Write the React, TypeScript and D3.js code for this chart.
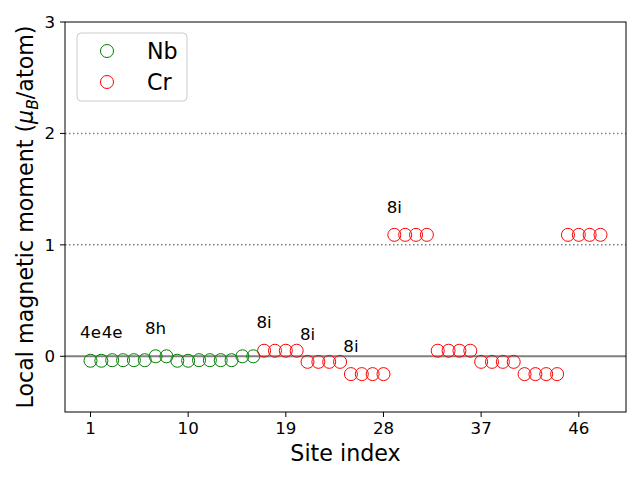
import React from "react";
import * as d3 from "d3";

const nbSites = [1, 2, 3, 4, 5, 6, 7, 8, 9, 10, 11, 12, 13, 14, 15, 16];
const nbMoments = [-0.04, -0.04, -0.035, -0.035, -0.035, -0.035, 0.0, 0.0, -0.04, -0.04, -0.035, -0.035, -0.035, -0.035, 0.0, 0.0];
const crSites = [17, 18, 19, 20, 21, 22, 23, 24, 25, 26, 27, 28, 29, 30, 31, 32, 33, 34, 35, 36, 37, 38, 39, 40, 41, 42, 43, 44, 45, 46, 47, 48];
const crMoments = [0.05, 0.05, 0.05, 0.05, -0.05, -0.05, -0.05, -0.05, -0.16, -0.16, -0.16, -0.16, 1.09, 1.09, 1.09, 1.09,
  0.05, 0.05, 0.05, 0.05, -0.05, -0.05, -0.05, -0.05, -0.16, -0.16, -0.16, -0.16, 1.09, 1.09, 1.09, 1.09];
const labelText = ["4e", "4e", "8h", "8i", "8i", "8i", "8i"];
const labelSite = [1, 3, 7, 17, 21, 25, 29];
const labelMoment = [-0.04, -0.035, 0.0, 0.05, -0.05, -0.16, 1.09];
const xTicks = [1, 10, 19, 28, 37, 46];
const yTicks = [0, 1, 2, 3];
const dottedLevels = [1, 2];

const W = 640, H = 480;
const L = 65, R = 626, T = 22, B = 412;
const font = "'DejaVu Sans', sans-serif";

export default function App() {
  const x = d3.scaleLinear().domain([-1.35, 50.35]).range([L, R]);
  const y = d3.scaleLinear().domain([-0.5, 3]).range([B, T]);
  return (
    <svg width={W} height={H} style={{ position: "absolute", left: 0, top: 0 }} fontFamily={font}>
      <rect width={W} height={H} fill="white" />
      {dottedLevels.map((v) => (
        <line key={v} x1={L} x2={R} y1={y(v)} y2={y(v)} stroke="#808080" strokeWidth={1.5} strokeDasharray="1.5,2.5" />
      ))}
      <line x1={L} x2={R} y1={y(0)} y2={y(0)} stroke="#808080" strokeWidth={2} />
      {nbSites.map((s, i) => (
        <circle key={"nb" + s} cx={x(s)} cy={y(nbMoments[i])} r={6.5} fill="none" stroke="#008000" strokeWidth={1} />
      ))}
      {crSites.map((s, i) => (
        <circle key={"cr" + s} cx={x(s)} cy={y(crMoments[i])} r={6.5} fill="none" stroke="#ff0000" strokeWidth={1} />
      ))}
      {labelText.map((t, i) => (
        <text key={i} x={x(labelSite[i])} y={y(labelMoment[i] + 0.2)} textAnchor="middle" fontSize={16.67} fill="black">{t}</text>
      ))}
      <rect x={L} y={T} width={R - L} height={B - T} fill="none" stroke="black" strokeWidth={1} />
      {xTicks.map((t) => (
        <g key={t}>
          <line x1={x(t)} x2={x(t)} y1={B} y2={B + 5} stroke="black" strokeWidth={1} />
          <text x={x(t)} y={B + 22} textAnchor="middle" fontSize={16.67}>{t}</text>
        </g>
      ))}
      {yTicks.map((t) => (
        <g key={t}>
          <line x1={L - 5} x2={L} y1={y(t)} y2={y(t)} stroke="black" strokeWidth={1} />
          <text x={L - 10} y={y(t) + 6} textAnchor="end" fontSize={16.67}>{t}</text>
        </g>
      ))}
      <text x={(L + R) / 2} y={461} textAnchor="middle" fontSize={22.2}>Site index</text>
      <text transform={`translate(33,${(T + B) / 2}) rotate(-90)`} textAnchor="middle" fontSize={22.2}>
        Local magnetic moment (<tspan fontStyle="italic">μ</tspan>
        <tspan fontStyle="italic" fontSize={15.5} dy={5}>B</tspan>
        <tspan dy={-5}>/atom)</tspan>
      </text>
      <g>
        <rect x={77} y={33} width={110} height={68} rx={4} fill="white" fillOpacity={0.8} stroke="#cccccc" strokeWidth={1} />
        <circle cx={107} cy={51} r={6.5} fill="none" stroke="#008000" strokeWidth={1} />
        <circle cx={107} cy={82} r={6.5} fill="none" stroke="#ff0000" strokeWidth={1} />
        <text x={147} y={59} fontSize={22.2}>Nb</text>
        <text x={147} y={90} fontSize={22.2}>Cr</text>
      </g>
    </svg>
  );
}
